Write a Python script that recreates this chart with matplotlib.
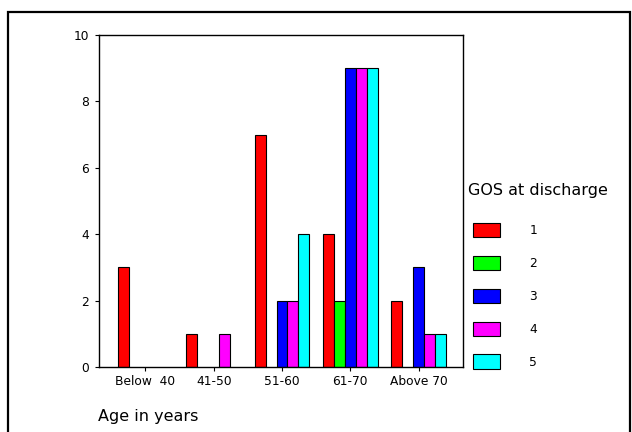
import numpy as np
import matplotlib
matplotlib.use("Agg")
import matplotlib.pyplot as plt
from matplotlib.patches import Rectangle, Patch

plt.rcParams['font.family'] = ['DejaVu Sans']

age_groups = ["Below  40", "41-50", "51-60", "61-70", "Above 70"]
gos_levels = ["1", "2", "3", "4", "5"]
gos1 = [3, 1, 7, 4, 2]
gos2 = [0, 0, 0, 2, 0]
gos3 = [0, 0, 2, 9, 3]
gos4 = [0, 1, 2, 9, 1]
gos5 = [0, 0, 4, 9, 1]
colors = ['#ff0000', '#00ff00', '#0000ff', '#ff00ff', '#00ffff']

fig = plt.figure(figsize=(6.32, 4.32), dpi=100)
ax = fig.add_axes([99/632, 1-367/432, 364/632, 332/432])

series = [gos1, gos2, gos3, gos4, gos5]
x = np.arange(len(age_groups))
w = 0.16
for i, vals in enumerate(series):
    vals = np.array(vals)
    keep = vals > 0
    pos = x + (i - 2) * w
    ax.bar(pos[keep], vals[keep], width=w, color=colors[i],
           edgecolor='black', linewidth=0.8)

ax.set_xlim(-0.68, 4.65)
ax.set_ylim(0, 10)
ax.set_yticks([0, 2, 4, 6, 8, 10])
ax.set_xticks(x)
ax.set_xticklabels(age_groups)
ax.tick_params(axis='both', labelsize=8.8, length=3, width=0.8, direction='out')
ax.tick_params(axis='y', pad=4)
ax.tick_params(axis='x', pad=3)
for s in ax.spines.values():
    s.set_linewidth(1.0)

fig.text(98/632, 1-417/432, "Age in years", fontsize=11.5, va='center', ha='left')

# legend title placed separately so the gap above the entries can be set
fig.text(468/632, 1-191/432, "GOS at discharge", fontsize=11.5, va='center', ha='left')
handles = [Patch(facecolor=c, edgecolor='black', linewidth=0.8) for c in colors]
leg = fig.legend(handles, gos_levels, loc='upper left',
                 bbox_to_anchor=(467/632, 1-217/432), frameon=False,
                 fontsize=8.8, borderpad=0,
                 handlelength=2.2, handleheight=1.4, labelspacing=1.53,
                 handletextpad=2.4)

fig.add_artist(Rectangle((8/632, -0.02), 622/632, 0.02 + 1 - 12/432,
                         transform=fig.transFigure, fill=False,
                         edgecolor='black', linewidth=1.6, clip_on=False))

fig.savefig("out.png", dpi=100)
